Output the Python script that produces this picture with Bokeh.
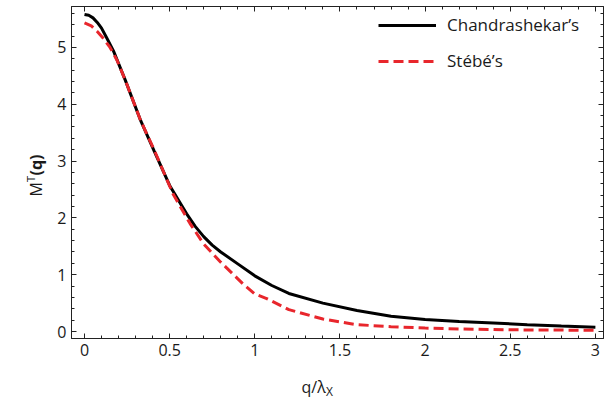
import numpy as np
from bokeh.plotting import figure
from bokeh.models import (Range1d, LinearAxis, Label, Legend, LegendItem, FixedTicker)
from bokeh.embed import file_html
from bokeh.resources import INLINE

# ---- data ----
chandra_x = [0, 0.025, 0.05, 0.075, 0.1, 0.13, 0.17, 0.24, 0.33, 0.41, 0.5, 0.6, 0.65, 0.7,
             0.75, 0.8, 0.9, 1.0, 1.1, 1.2, 1.4, 1.6, 1.8, 2.0, 2.2, 2.4, 2.6, 2.8, 3.0]
chandra_y = [5.58, 5.565, 5.52, 5.44, 5.34, 5.17, 4.94, 4.42, 3.71, 3.17, 2.57, 2.07, 1.85, 1.67,
             1.52, 1.40, 1.19, 0.98, 0.81, 0.67, 0.50, 0.37, 0.27, 0.21, 0.175, 0.15, 0.12, 0.095, 0.076]
stebe_x = [0, 0.04, 0.075, 0.11, 0.15, 0.19, 0.24, 0.33, 0.41, 0.52, 0.62, 0.7, 0.8, 0.93,
           1.0, 1.07, 1.2, 1.4, 1.6, 1.8, 2.0, 2.2, 2.5, 2.8, 3.0]
stebe_y = [5.43, 5.38, 5.28, 5.16, 5.0, 4.78, 4.42, 3.71, 3.19, 2.42, 1.90, 1.54, 1.22, 0.84,
           0.66, 0.58, 0.385, 0.22, 0.12, 0.085, 0.06, 0.045, 0.03, 0.025, 0.02]
series_names = ["Chandrashekar\u2019s", "St\u00e9b\u00e9\u2019s"]
x_major = [0, 0.5, 1, 1.5, 2, 2.5, 3]
x_labels = {0: "0", 0.5: "0.5", 1: "1", 1.5: "1.5", 2: "2", 2.5: "2.5", 3: "3"}
y_major = [0, 1, 2, 3, 4, 5]
x_minor = [round(v * 0.1, 2) for v in range(-1, 31)]
y_minor = [round(v * 0.2, 2) for v in range(0, 29)]

FONT = "Open Sans"
TXT = "#1a1a1a"
FRAME = "#222222"
RED = "#e8262c"

X0, X1 = -0.0763, 3.0476
Y0, Y1 = -0.123, 5.72

p = figure(width=608, height=397, output_backend="svg", toolbar_location=None,
           x_range=Range1d(X0, X1), y_range=Range1d(Y0, Y1),
           min_border_left=71, min_border_right=5, min_border_top=6, min_border_bottom=59,
           x_axis_location=None, y_axis_location=None)
p.grid.visible = False
p.outline_line_color = FRAME

def style(ax, labels=True):
    ax.axis_line_color = FRAME
    ax.major_tick_line_color = FRAME
    ax.minor_tick_line_color = FRAME
    ax.major_tick_in = 5
    ax.major_tick_out = 0
    ax.minor_tick_in = 3
    ax.minor_tick_out = 0
    if labels:
        ax.major_label_text_font = FONT
        ax.major_label_text_font_size = "16px"
        ax.major_label_text_color = TXT
    else:
        ax.major_label_text_font_size = "1px"
        ax.major_label_text_color = None
        ax.major_label_standoff = 0

bottom = LinearAxis(ticker=FixedTicker(ticks=x_major, minor_ticks=x_minor),
                    major_label_overrides=x_labels)
style(bottom)
top = LinearAxis(ticker=FixedTicker(ticks=x_major, minor_ticks=x_minor))
style(top, labels=False)
left = LinearAxis(ticker=FixedTicker(ticks=y_major, minor_ticks=y_minor))
style(left)
right = LinearAxis(ticker=FixedTicker(ticks=y_major, minor_ticks=y_minor))
style(right, labels=False)
p.add_layout(bottom, "below")
p.add_layout(top, "above")
p.add_layout(left, "left")
p.add_layout(right, "right")

r1 = p.line(chandra_x, chandra_y, line_color="black", line_width=3)
r2 = p.line(stebe_x, stebe_y, line_color=RED, line_width=3, line_dash="10 5")

legend = Legend(items=[LegendItem(label=series_names[0], renderers=[r1]),
                       LegendItem(label=series_names[1], renderers=[r2])],
                location=(307, 266), border_line_color=None, background_fill_alpha=0,
                label_text_font=FONT, label_text_font_size="17px", label_text_color=TXT,
                glyph_width=58, glyph_height=20, label_height=20, spacing=13,
                label_standoff=11, padding=0, margin=0)
p.add_layout(legend, "center")

# axis titles as real text pieces, anchored at the frame's lower-left corner
def lab(text, dx, dy, size, side, bold=False, angle=0.0):
    p.add_layout(Label(x=X0, y=Y0, x_offset=dx, y_offset=dy, text=text,
                       angle=angle, text_font=FONT, text_font_size=size,
                       text_font_style="bold" if bold else "normal",
                       text_color=TXT, text_align="left", text_baseline="alphabetic"),
                 side)

A = np.pi / 2
lab("M", -36, 142, "16px", "left", angle=A)
lab("T", -41, 156.5, "11px", "above", angle=A)
lab("(q)", -36, 163, "16px", "left", bold=True, angle=A)

lab("q/\u03bb", 230, -48, "16px", "below")
lab("X", 254.5, -53, "12px", "below")

open("out.html", "w").write(file_html(p, INLINE))
